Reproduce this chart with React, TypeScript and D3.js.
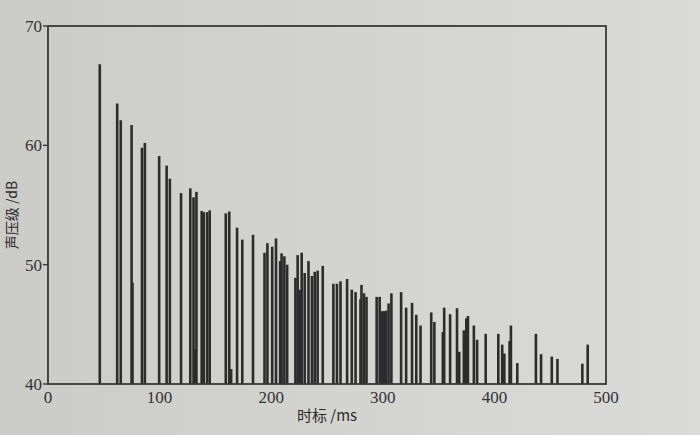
import React from "react";
import * as d3 from "d3";

// Reflection arrival times (ms)
const times: number[] = [
  46.4, 62.0, 65.2, 75.7, 74.9, 84.2, 86.8, 99.6, 106.3, 109.2,
  119.2, 127.5, 131.8, 130.4, 133.0, 137.7, 139.6, 142.6, 144.9, 159.3,
  164.1, 162.4, 169.4, 174.1, 183.7, 194.0, 196.6, 200.9, 204.3, 208.0,
  209.3, 211.8, 214.3, 221.7, 223.7, 225.5, 227.3, 230.0, 233.4, 236.5,
  239.0, 241.6, 246.2, 255.7, 258.9, 262.1, 268.0, 272.2, 275.6, 280.9,
  280.0, 283.2, 285.4, 294.5, 297.2, 299.4, 301.0, 303.0, 305.2, 307.7,
  316.4, 320.9, 326.2, 330.0, 333.8, 343.4, 346.2, 353.8, 355.0, 360.3,
  366.5, 368.5, 372.6, 374.8, 376.3, 381.6, 384.5, 392.2, 403.5, 407.0,
  408.9, 413.6, 414.8, 420.5, 437.2, 441.8, 451.4, 456.5, 478.8, 483.6,
];

// Sound pressure level of each reflection (dB)
const levels: number[] = [
  66.8, 63.5, 62.1, 48.5, 61.7, 59.8, 60.2, 59.1, 58.3, 57.2,
  56.0, 56.4, 42.9, 55.65, 56.1, 54.5, 54.4, 54.4, 54.55, 54.3,
  41.25, 54.45, 53.1, 52.1, 52.5, 51.0, 51.8, 51.5, 52.2, 50.3,
  50.95, 50.7, 50.0, 48.9, 50.8, 47.9, 51.0, 49.3, 50.3, 49.05,
  49.4, 49.5, 49.9, 48.4, 48.4, 48.6, 48.8, 47.9, 47.7, 48.3,
  47.1, 47.6, 47.3, 47.3, 47.3, 46.1, 46.1, 46.15, 46.75, 47.6,
  47.7, 46.4, 46.8, 45.8, 44.9, 46.0, 45.2, 44.35, 46.4, 45.85,
  46.35, 42.7, 44.5, 45.5, 45.7, 44.9, 43.7, 44.2, 44.2, 43.3,
  42.55, 43.6, 44.9, 41.75, 44.2, 42.5, 42.3, 42.1, 41.7, 43.3,
];

const xTicks: number[] = [0, 100, 200, 300, 400, 500];
const yTicks: number[] = [40, 50, 60, 70];
const xTitle = "时标 /ms";
const yTitle = "声压级 /dB";

const W = 700;
const H = 435;
const L = 48;
const R = 606;
const T = 26;
const B = 384;

export default function App() {
  const x = d3.scaleLinear().domain([0, 500]).range([L, R]);
  const y = d3.scaleLinear().domain([40, 70]).range([B, T]);
  const bars = times.map((t, i) => ({ t, v: levels[i] }));
  const serif = "'Liberation Serif', 'DejaVu Serif', serif";
  const cjk = "'Noto Sans CJK SC', 'Liberation Serif', sans-serif";

  return (
    <svg
      width={W}
      height={H}
      viewBox={`0 0 ${W} ${H}`}
      style={{ position: "absolute", left: 0, top: 0 }}
    >
      <defs>
        <linearGradient id="paper" x1="0" y1="0" x2="1" y2="0">
          <stop offset="0" stopColor="#cbcbc7" />
          <stop offset="0.5" stopColor="#d3d3d0" />
          <stop offset="1" stopColor="#dadad8" />
        </linearGradient>
      </defs>
      <rect x={0} y={0} width={W} height={H} fill="url(#paper)" />

      {bars.map((d, i) => (
        <line
          key={i}
          x1={x(d.t)}
          x2={x(d.t)}
          y1={y(40)}
          y2={y(d.v)}
          stroke="#2c2c2c"
          strokeWidth={2.6}
        />
      ))}

      <rect
        x={L}
        y={T}
        width={R - L}
        height={B - T}
        fill="none"
        stroke="#383838"
        strokeWidth={1.8}
      />

      {yTicks.map((v) => (
        <g key={v}>
          <line x1={L - 5} x2={L} y1={y(v)} y2={y(v)} stroke="#383838" strokeWidth={1.4} />
          <text
            x={L - 6}
            y={y(v)}
            dy="0.35em"
            textAnchor="end"
            fontFamily={serif}
            fontSize={17}
            fill="#333"
          >
            {v}
          </text>
        </g>
      ))}

      {xTicks.map((v) => (
        <text
          key={v}
          x={x(v)}
          y={B + 19}
          textAnchor="middle"
          fontFamily={serif}
          fontSize={17}
          fill="#333"
        >
          {v}
        </text>
      ))}

      <text
        x={(L + R) / 2}
        y={421}
        textAnchor="middle"
        fontFamily={cjk}
        fontSize={15}
        fill="#2a2a2a"
      >
        {xTitle}
      </text>
      <text
        transform={`translate(17, ${(T + B) / 2 + 10}) rotate(-90)`}
        textAnchor="middle"
        fontFamily={cjk}
        fontSize={14}
        fill="#2a2a2a"
      >
        {yTitle}
      </text>
    </svg>
  );
}
